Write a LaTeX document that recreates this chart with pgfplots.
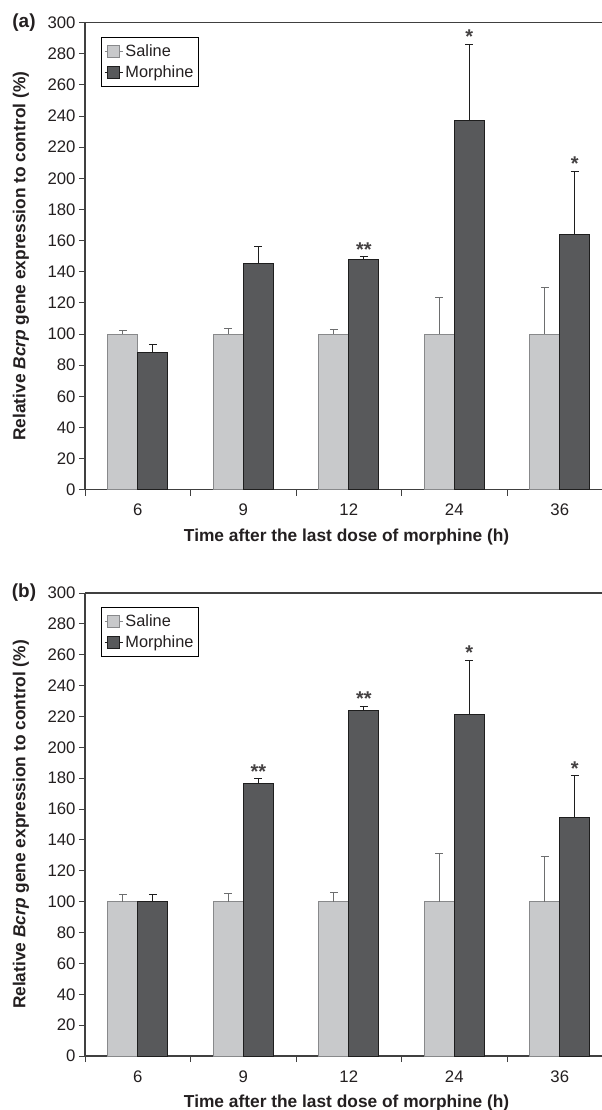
\documentclass[border=0pt]{standalone}
\usepackage{fontspec}
\setmainfont{Liberation Sans}
\usepackage{pgfplots}
\usepackage{pgfplotstable}
\pgfplotsset{compat=1.18}
\definecolor{salfill}{HTML}{C8C9CB}
\definecolor{saledge}{HTML}{88898B}
\definecolor{morfill}{HTML}{58595B}
\definecolor{moredge}{HTML}{1E1E1E}
\definecolor{axcol}{HTML}{404040}
\definecolor{txtcol}{HTML}{231F20}

\pgfplotstableread{
x sal salerr mor morerr
0 100 2    88    5
1 100 3.5  145.5 11
2 100 3    148   2
3 100 23.5 237   49
4 100 30   164   40.5
}\dataA

\pgfplotstableread{
x sal salerr mor morerr
0 100 4.5  100   4.5
1 100 5    176.5 3
2 100 6    224   2.6
3 100 31   221.5 35
4 100 29   154.5 27
}\dataB

\pgfplotsset{
  mystyle/.style={
    scale only axis, width=517bp, anchor=north west,
    xmin=-0.5, xmax=4.40, ymin=0, ymax=300,
    ytick={0,20,...,300},
    xtick={0,1,2,3,4}, xticklabels={6,9,12,24,36},
    minor xtick={-0.5,0.5,1.5,2.5,3.5},
    tick align=outside,
    major tick length=6bp, minor tick length=6bp,
    tick style={draw=axcol, line width=1bp},
    major x tick style={draw=none},
    axis x line*=box, axis y line*=left,
    xtick pos=bottom, ytick pos=left,
    axis line style={draw=axcol, line width=1.3bp},
    ybar=0pt, bar width=30bp,
    clip=false,
    /pgf/number format/assume math mode=true,
    tick label style={font=\fontsize{16.8}{18}\selectfont, text=txtcol},
    xticklabel style={yshift=-5bp},
    xlabel={Time after the last dose of morphine (h)},
    ylabel={Relative \textit{Bcrp} gene expression to control (\%)},
    x label style={at={(axis description cs:0.506,0)}, anchor=center, yshift=-47bp,
      font=\fontsize{17.4}{20}\selectfont\bfseries, text=txtcol},
    y label style={at={(axis description cs:0,0.5)}, anchor=center, yshift=64bp,
      font=\fontsize{17.4}{20}\selectfont\bfseries, text=txtcol},
    legend style={at={(axis description cs:0.031,0.969)}, anchor=north west,
      draw=black, line width=0.8bp, fill=white,
      font=\fontsize{16.4}{18}\selectfont, text=txtcol,
      inner xsep=3bp, inner ysep=6bp, row sep=6bp,
      nodes={inner xsep=2bp, inner ysep=1bp}},
    legend cell align=left,
  },
  sqleg/.style={legend image code/.code={%
      \path (0bp,0bp) -- (18bp,0bp);
      \draw[##1, line width=0.8bp] (2.5bp,-6bp) rectangle (14.5bp,6bp);}},
  salbar/.style={sqleg, fill=salfill, draw=saledge, line width=1bp,
    error bars/y dir=plus, error bars/y explicit,
    error bars/error bar style={draw=saledge!80!black, line width=1bp},
    error bars/error mark options={rotate=90, draw=saledge!80!black, line width=1bp, mark size=4bp}},
  morbar/.style={sqleg, fill=morfill, draw=moredge, line width=1bp,
    error bars/y dir=plus, error bars/y explicit,
    error bars/error bar style={draw=moredge, line width=1bp},
    error bars/error mark options={rotate=90, draw=moredge, line width=1bp, mark size=4bp}},
}

\newcommand{\sigstar}[3]{\node[anchor=base, font=\fontsize{20}{22}\selectfont\bfseries, text=txtcol!85!white, xshift=15bp, yshift=0.5bp, inner xsep=0pt] at (axis cs:#1,#2) {#3};}

\begin{document}
\begin{tikzpicture}
\path[use as bounding box] (0,0) rectangle (602bp,-1110bp);

\begin{axis}[mystyle, at={(85bp,-22.7bp)}, height=467bp]
\addplot[salbar] table[x=x, y=sal, y error=salerr] {\dataA};
\addplot[morbar] table[x=x, y=mor, y error=morerr] {\dataA};
\legend{Saline, Morphine\hspace{6bp}}
\sigstar{2}{149.7}{**}
\sigstar{3}{286}{*}
\sigstar{4}{204.5}{*}
\node[anchor=center, font=\fontsize{19}{22}\selectfont\bfseries, text=txtcol] at ([xshift=-61bp]rel axis cs:0,1) {(a)};
\end{axis}

\begin{axis}[mystyle, at={(85bp,-593bp)}, height=463bp]
\addplot[salbar] table[x=x, y=sal, y error=salerr] {\dataB};
\addplot[morbar] table[x=x, y=mor, y error=morerr] {\dataB};
\legend{Saline, Morphine\hspace{6bp}}
\sigstar{1}{179.5}{**}
\sigstar{2}{226.6}{**}
\sigstar{3}{256.5}{*}
\sigstar{4}{181.5}{*}
\node[anchor=center, font=\fontsize{19}{22}\selectfont\bfseries, text=txtcol] at ([xshift=-61bp]rel axis cs:0,1) {(b)};
\end{axis}
\end{tikzpicture}
\end{document}
